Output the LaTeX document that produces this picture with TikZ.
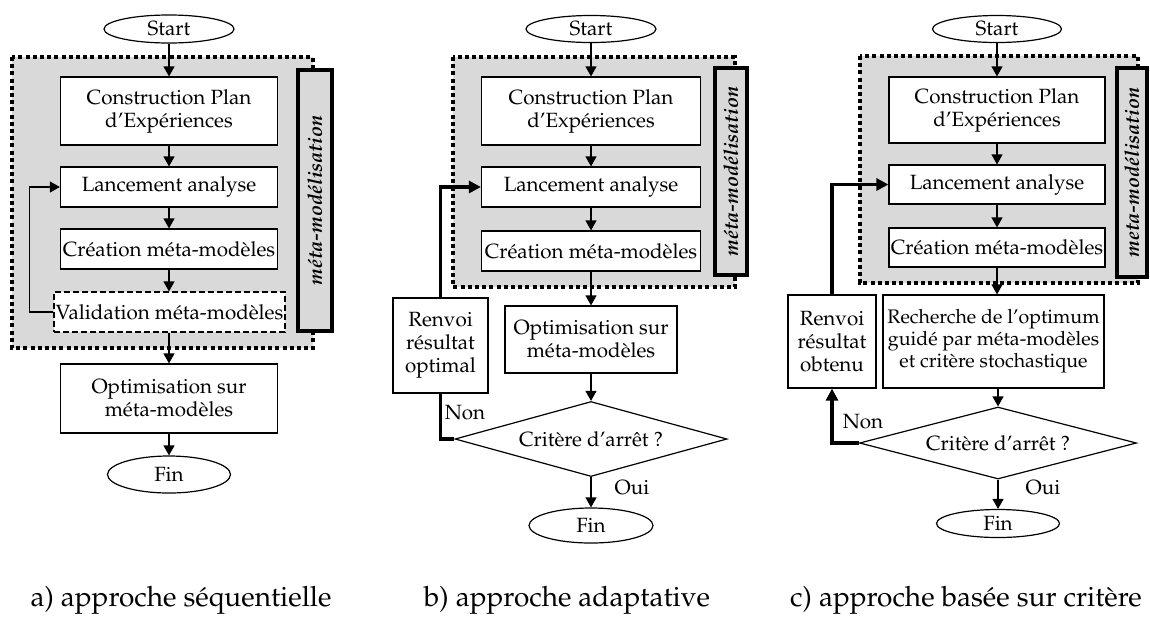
\documentclass[tikz,border=0pt]{standalone}
\usepackage[T1]{fontenc}
\usepackage{mathpazo}
\usepackage{tikz}
\usetikzlibrary{arrows.meta,shapes.geometric}
\tikzset{
  procbox/.style={draw, line width=0.6pt, fill=white, align=center, inner sep=0pt},
  termin/.style={ellipse, draw, line width=0.6pt, fill=white, inner sep=0pt},
  decis/.style={diamond, draw, line width=0.6pt, fill=white, inner sep=0pt, aspect=3.7},
  flow/.style={-{Triangle[length=5pt,width=5.5pt]}, line width=0.6pt},
  backflow/.style={line width=1.6pt},
  metazone/.style={fill=black!15, line width=2pt, dash pattern=on 2pt off 1.6pt},
  metabar/.style={draw, fill=black!15, line width=2pt, rotate=90, inner sep=0pt,
    font=\fontsize{10}{12}\selectfont\bfseries\itshape},
  caption/.style={font=\fontsize{14}{16}\selectfont},
}

\begin{document}
\begin{tikzpicture}[x=0.5pt,y=-0.5pt,font=\fontsize{10.3}{11.5}\selectfont]
  \useasboundingbox (0,0) rectangle (1150,617);

  % a) sequentielle
  \draw[metazone] (12,57) rectangle (313,348);
  \node[metabar, minimum width=130.5pt, minimum height=17pt] (barA) at (315,200.5) {méta-modélisation};
  \node[termin, minimum width=65pt, minimum height=14pt] (startA) at (169,29) {Start};
  \node[procbox, minimum width=108.5pt, minimum height=34pt] (consA) at (169,111) {Construction Plan\\d'Expériences};
  \node[procbox, minimum width=108.5pt, minimum height=20pt] (lancA) at (169,187) {Lancement analyse};
  \node[procbox, minimum width=108.5pt, minimum height=20pt] (creaA) at (169,249) {Création méta-modèles};
  \node[procbox, dash pattern=on 3pt off 1.5pt, minimum width=115.5pt, minimum height=20pt] (valA) at (169.5,312) {Validation méta-modèles};
  \node[procbox, minimum width=108.5pt, minimum height=34.5pt] (optA) at (169,398.5) {Optimisation sur\\méta-modèles};
  \node[termin, minimum width=61.5pt, minimum height=18.5pt] (finA) at (169,474.5) {Fin};
  \draw[flow] (startA) -- (consA);
  \draw[flow] (consA) -- (lancA);
  \draw[flow] (lancA) -- (creaA);
  \draw[flow] (creaA) -- (creaA.south |- valA.north);
  \draw[flow] (creaA.south |- valA.south) -- (optA);
  \draw[flow] (optA) -- (finA);
  \draw[flow] (valA.west) -- ++(-24,0) |- (lancA.west);
  \node[caption] (capA) at (181,600) {a) approche séquentielle};

  % b) adaptative
  \draw[metazone] (453,57) rectangle (735,287);
  \node[metabar, minimum width=103.5pt, minimum height=16pt] (barB) at (731,171.5) {méta-modélisation};
  \node[termin, minimum width=65pt, minimum height=13.5pt] (startB) at (591,29) {Start};
  \node[procbox, minimum width=109.5pt, minimum height=34pt] (consB) at (591,111) {Construction Plan\\d'Expériences};
  \node[procbox, minimum width=109.5pt, minimum height=20pt] (lancB) at (591,187) {Lancement analyse};
  \node[procbox, minimum width=109.5pt, minimum height=20pt] (creaB) at (591,251) {Création méta-modèles};
  \node[procbox, minimum width=86pt, minimum height=33.5pt] (optB) at (591,339.5) {Optimisation sur\\méta-modèles};
  \node[procbox, minimum width=47.5pt, minimum height=47.5pt] (renvB) at (440.5,345.5) {Renvoi\\résultat\\optimal};
  \node[decis, minimum width=136pt, minimum height=37.5pt] (critB) at (591,439) {Critère d'arrêt ?};
  \node[termin, minimum width=62pt, minimum height=17.5pt] (finB) at (591,525.5) {Fin};
  \draw[flow] (startB) -- (consB);
  \draw[flow] (consB) -- (lancB);
  \draw[flow] (lancB) -- (creaB);
  \draw[flow] (creaB) -- (optB);
  \draw[flow] (optB) -- (critB);
  \draw[flow] (critB) -- (finB);
  \draw[backflow] (critB.west) -| (renvB.south);
  \draw[backflow, -{Triangle[length=6pt,width=6pt]}] (renvB.north) |- (lancB.west);
  \node (nonB) at (465,413) {Non};
  \node (ouiB) at (632,488) {Oui};
  \node[caption] (capB) at (567,600) {b) approche adaptative};

  % c) critere
  \draw[metazone] (860,56) rectangle (1138,283);
  \node[metabar, minimum width=104.5pt, minimum height=15pt] (barC) at (1132,172.5) {meta-modélisation};
  \node[termin, minimum width=64.5pt, minimum height=13.5pt] (startC) at (997,29) {Start};
  \node[procbox, minimum width=108pt, minimum height=33pt] (consC) at (997,110) {Construction Plan\\d'Expériences};
  \node[procbox, minimum width=108pt, minimum height=19.5pt] (lancC) at (997,184.5) {Lancement analyse};
  \node[procbox, minimum width=108pt, minimum height=19.5pt] (creaC) at (997,247.5) {Création méta-modèles};
  \node[procbox, minimum width=110.5pt, minimum height=46.5pt, font=\fontsize{9.8}{11}\selectfont] (rechC) at (993.5,341.5) {Recherche de l'optimum\\guidé par méta-modèles\\et critère stochastique};
  \node[procbox, minimum width=44pt, minimum height=46.5pt] (renvC) at (832,341.5) {Renvoi\\résultat\\obtenu};
  \node[decis, minimum width=138.5pt, minimum height=36pt] (critC) at (998,443) {Critère d'arrêt ?};
  \node[termin, minimum width=61.5pt, minimum height=14pt] (finC) at (998,523.5) {Fin};
  \draw[flow] (startC) -- (consC);
  \draw[flow] (consC) -- (lancC);
  \draw[flow] (lancC) -- (creaC);
  \draw[flow] (creaC.south) -- (creaC.south |- rechC.north);
  \draw[flow] (critC.north |- rechC.south) -- (critC.north);
  \draw[flow] (critC) -- (finC);
  \draw[backflow, -{Triangle[length=6pt,width=6pt]}] (critC.west) -| (renvC.south);
  \draw[backflow, -{Triangle[length=6pt,width=6pt]}] (renvC.north) |- (lancC.west);
  \node (nonC) at (863,422) {Non};
  \node (ouiC) at (1043,488) {Oui};
  \node[caption] (capC) at (966,600) {c) approche basée sur critère};
\end{tikzpicture}
\end{document}
